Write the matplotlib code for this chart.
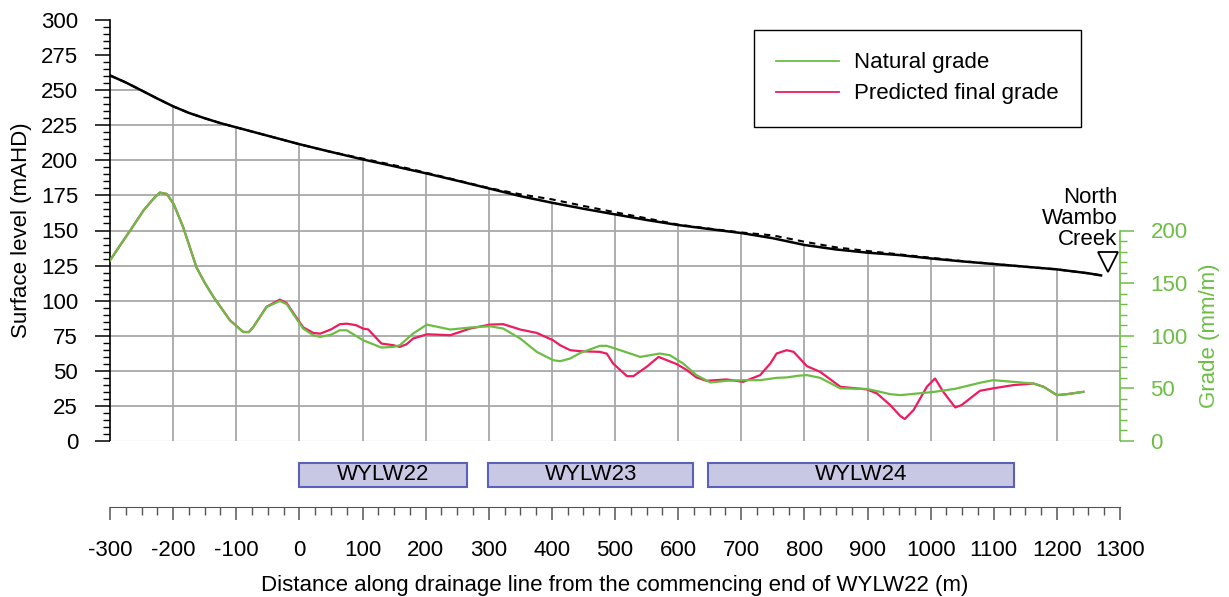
import numpy as np
import matplotlib
matplotlib.use("Agg")
import matplotlib.pyplot as plt
from matplotlib.ticker import MultipleLocator, FixedLocator

plt.rcParams['font.family'] = ['Liberation Sans', 'DejaVu Sans']
plt.rcParams['axes.unicode_minus'] = False

# surface levels along drainage line (mAHD)
surf_x = [-300, -275, -250, -225, -200, -175, -150, -125, -100, -50, 0, 50, 100, 150,
          200, 250, 300, 350, 400, 450, 500, 550, 600, 650, 700, 750, 800, 850, 900,
          950, 1000, 1050, 1100, 1150, 1200, 1250, 1270]
final_surf = [260.5, 255.5, 249.8, 244, 238.5, 233.8, 230, 226.5, 223.5, 217.5, 211.5,
              206, 200.7, 195.8, 190.8, 185.5, 180, 174.5, 169.8, 165.5, 161.5, 157.5,
              153.9, 151, 148.2, 144.5, 139.7, 136.5, 134.2, 132.5, 130.1, 128, 126.1,
              124.2, 122.3, 119.5, 118]
natural_surf = [260.5, 255.5, 249.8, 244, 238.5, 233.8, 230, 226.5, 223.5, 217.5, 211.5,
                206, 201.3, 196.5, 191.3, 185.8, 180.3, 175.8, 172.2, 167.5, 163, 158.7,
                154.2, 151.3, 148.6, 146.5, 142, 138, 135.4, 133, 130.6, 128.2, 126.2,
                124.2, 122.3, 119.5, 118]

# natural grade (mm/m)
nat_x = [-300, -285, -268, -247, -230, -221, -210, -199, -184, -163, -150, -136, -110,
         -89, -80, -73, -52, -31, -20, -10, 6, 22, 33, 50, 64, 75, 101, 130, 149, 159,
         180, 202, 239, 270, 302, 323, 350, 376, 402, 413, 429, 445, 476, 487, 508, 540,
         571, 587, 608, 629, 651, 677, 703, 730, 756, 772, 790, 804, 825, 857, 899, 915,
         936, 952, 994, 1007, 1039, 1078, 1099, 1131, 1163, 1179, 1200, 1216, 1242]
nat_grade = [171.6, 185, 200, 219, 231, 236, 234.7, 225, 203, 165, 150.4, 136.8, 114.7,
             103.6, 103.5, 108.3, 127.3, 133, 130, 121, 106.8, 100.5, 98.9, 101, 105.2,
             105.2, 95.7, 88.8, 89.4, 91, 102, 110.6, 105.9, 107.8, 109, 106.8, 97.3,
             84.7, 76.8, 75.8, 78.4, 83.7, 90.4, 90.4, 86.3, 79.9, 83.1, 81.5, 73.6, 62.6,
             55.6, 57.2, 57.8, 57.8, 60, 60.4, 62, 62.6, 60, 50, 49.5, 47.4, 44.5, 43.6,
             46, 46.8, 49.6, 55.3, 57.8, 56.2, 54.6, 51.5, 43.6, 44.5, 46.7]

# predicted final grade (mm/m)
fin_x = [-300, -285, -268, -247, -230, -221, -210, -199, -184, -163, -150, -136, -110,
         -89, -80, -73, -52, -31, -20, -10, 6, 22, 33, 50, 64, 75, 90, 101, 109, 120, 130,
         149, 159, 170, 180, 202, 220, 239, 270, 302, 323, 350, 376, 402, 413, 429, 445,
         476, 487, 497, 519, 529, 550, 569, 598, 614, 629, 645, 677, 703, 730, 746, 756,
         772, 783, 804, 825, 857, 899, 915, 936, 952, 959, 973, 994, 1007, 1020, 1039,
         1049, 1078, 1099, 1131, 1163, 1179, 1200, 1216, 1242]
fin_grade = [171.6, 185, 200, 219, 231, 236, 234.7, 225, 203, 165, 150.4, 136.8, 114.7,
             103.6, 103.5, 108.3, 127.5, 134.3, 131, 122, 108, 102.7, 102, 106, 110.9,
             111.5, 110, 106.8, 106, 99, 92.6, 91, 89.4, 92, 97.3, 101.4, 101, 100.5,
             106.8, 110.6, 111, 105.9, 102.7, 95.7, 91, 86.3, 85.3, 84.7, 83, 73.6, 61.6,
             61.6, 70.4, 79.9, 73, 67.3, 60.4, 57.2, 58.5, 56.2, 62.6, 73.6, 83.1, 86.3,
             84.7, 71.1, 65.7, 51.5, 49, 45.2, 34.1, 23.7, 20.9, 29.4, 51.5, 59.4, 46.7,
             31.9, 34.1, 47.7, 50, 53.1, 54.6, 51.5, 43.6, 44.5, 46.7]

panels = ['WYLW22', 'WYLW23', 'WYLW24']
panel_start = [0, 299, 647]
panel_end = [265, 624, 1132]

creek_x = 1281
creek_level = 127.5

green = '#6cbd45'
pink = '#ec1c5e'
gridc = '#a8a8a8'
fs = 16

fig = plt.figure(figsize=(12.29, 5.97), dpi=100)
W, H = 1229, 597
ax = fig.add_axes([110 / W, 1 - 441 / H, 1010 / W, 421 / H])
ax.set_xlim(-300, 1300)
ax.set_ylim(0, 300)

# grid only below the surface line
gx = np.arange(-200, 1201, 100)
ax.vlines(gx, 0, np.interp(gx, surf_x, final_surf), color=gridc, lw=1.3, zorder=0.5)
for lev in range(25, 251, 25):
    if lev >= min(final_surf):
        xe = np.interp(lev, final_surf[::-1], surf_x[::-1])
    else:
        xe = 1300
    ax.hlines(lev, -300, xe, color=gridc, lw=1.3, zorder=0.5)

ax.plot(surf_x, natural_surf, color='black', ls=(0, (3, 2.5)), lw=1.5, zorder=2)
ax.plot(surf_x, final_surf, color='black', lw=1.8, zorder=3)
ax.plot([creek_x], [creek_level], marker='v', ms=14, mfc='white', mec='black', mew=1.3,
        zorder=4, clip_on=False)
ax.text(1296, 136, 'North\nWambo\nCreek', ha='right', va='bottom', fontsize=fs,
        multialignment='right', linespacing=1.0)

for s in ['top', 'right']:
    ax.spines[s].set_visible(False)
ax.spines['bottom'].set_color('#909090')
ax.spines['left'].set_linewidth(1.2)
ax.tick_params(axis='x', bottom=False, labelbottom=False)
ax.yaxis.set_major_locator(MultipleLocator(25))
ax.yaxis.set_minor_locator(MultipleLocator(5))
ax.tick_params(axis='y', which='major', length=11, width=1.1, pad=12, labelsize=fs)
ax.tick_params(axis='y', which='minor', length=5, width=1.0)
ax.set_ylabel('Surface level (mAHD)', fontsize=fs)
ax.yaxis.set_label_coords(-0.077, 0.5)

# grade axis
ax2 = ax.twinx()
ax2.set_ylim(0, 400)
l_fin, = ax2.plot(fin_x, fin_grade, color=pink, lw=1.6)
l_nat, = ax2.plot(nat_x, nat_grade, color=green, lw=1.6)
for s in ['top', 'left', 'bottom']:
    ax2.spines[s].set_visible(False)
ax2.spines['right'].set_color(green)
ax2.spines['right'].set_linewidth(1.2)
ax2.spines['right'].set_bounds(0, 200)
ax2.yaxis.set_major_locator(FixedLocator([0, 50, 100, 150, 200]))
ax2.yaxis.set_minor_locator(FixedLocator(list(range(0, 201, 10))))
ax2.tick_params(axis='y', which='major', length=10, width=1.1, color=green,
                labelcolor=green, pad=12, labelsize=fs)
ax2.tick_params(axis='y', which='minor', length=5, width=1.0, color=green)
ax2.set_ylabel('Grade (mm/m)', color=green, fontsize=fs)
ax2.yaxis.set_label_coords(1.078, 0.25)

leg = ax2.legend([l_nat, l_fin], ['Natural grade', 'Predicted final grade'],
                 loc='upper right', bbox_to_anchor=(0.9614, 0.976), fontsize=fs,
                 frameon=True, fancybox=False, edgecolor='black', framealpha=1,
                 borderpad=1.0, handlelength=2.8, handletextpad=0.7,
                 labelspacing=0.45, borderaxespad=0)
leg.get_frame().set_linewidth(1.0)
for h in leg.get_lines():
    h.set_linewidth(1.3)

# panel bars and distance axis
axb = fig.add_axes([110 / W, 1 - 507 / H, 1010 / W, 66 / H])
axb.set_xlim(-300, 1300)
axb.set_ylim(0, 1)
widths = [e - s for s, e in zip(panel_start, panel_end)]
axb.barh([0.485] * 3, widths, left=panel_start, height=0.364, color='#c9c8e4',
         edgecolor='#5c60b6', lw=1.5)
for name, s, e in zip(panels, panel_start, panel_end):
    axb.text((s + e) / 2, 0.485, name, ha='center', va='center', fontsize=fs)
for s in ['top', 'left', 'right']:
    axb.spines[s].set_visible(False)
axb.spines['bottom'].set_color('#555555')
axb.set_yticks([])
axb.xaxis.set_major_locator(MultipleLocator(100))
axb.xaxis.set_minor_locator(MultipleLocator(25))
axb.tick_params(axis='x', which='major', length=9.5, width=1.1, color='#555555',
                pad=14, labelsize=fs)
axb.tick_params(axis='x', which='minor', length=5.5, width=1.0, color='#555555')
axb.set_xlabel('Distance along drainage line from the commencing end of WYLW22 (m)',
               fontsize=fs, labelpad=10)

fig.savefig('out.png', dpi=100)
